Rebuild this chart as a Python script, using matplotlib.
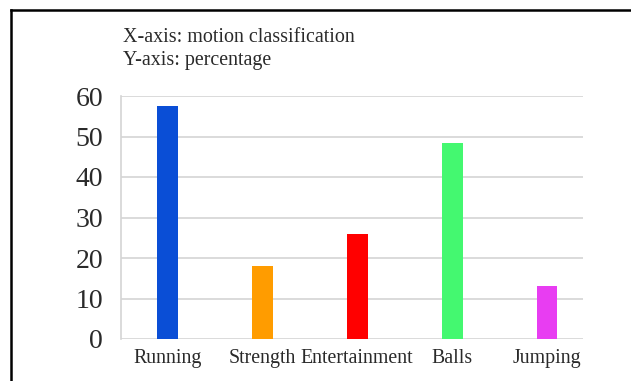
import matplotlib
matplotlib.use("Agg")
from matplotlib import pyplot as plt
from matplotlib.lines import Line2D

# data
categories = ["Running", "Strength", "Entertainment", "Balls", "Jumping"]
percentages = [57.5, 18, 26, 48.3, 13]
bar_colors = ["#0a4ed6", "#ff9c00", "#ff0000", "#44f870", "#e83df2"]
y_ticks = [0, 10, 20, 30, 40, 50, 60]

plt.rcParams['font.family'] = ['Liberation Serif', 'DejaVu Serif']

fig = plt.figure(figsize=(6.31, 3.81), dpi=100)
ax = fig.add_axes([121/631, 1-339/381, (583-121)/631, (339-96)/381])

x = list(range(len(categories)))
ax.bar(x, percentages, width=0.22, color=bar_colors, zorder=3)

ax.set_ylim(0, 60)
ax.set_xlim(-0.49, 4.38)
ax.set_yticks(y_ticks)
ax.set_yticklabels([str(t) for t in y_ticks], fontsize=20, color="#2a2a2a")
ax.set_xticks(x)
ax.set_xticklabels(categories, fontsize=14.3, color="#2a2a2a")
ax.tick_params(axis='y', length=0, pad=13)
ax.tick_params(axis='x', length=0, pad=7)
ax.grid(axis='y', color="#d4d4d4", linewidth=1.2, zorder=0)
for s in ["top", "right", "bottom"]:
    ax.spines[s].set_visible(False)
ax.spines["left"].set_color("#d4d4d4")
ax.spines["left"].set_linewidth(1.2)

fig.text(123/631, 1-37/381, "X-axis: motion classification", fontsize=14.4,
         va="center", ha="left", color="#2a2a2a")
fig.text(123/631, 1-61/381, "Y-axis: percentage", fontsize=14.4,
         va="center", ha="left", color="#2a2a2a")

# frame around the picture (top and left only)
fig.add_artist(Line2D([11/631, 1], [1-10/381, 1-10/381], color="black", linewidth=1.8))
fig.add_artist(Line2D([11/631, 11/631], [0, 1-10/381], color="black", linewidth=1.8))

fig.savefig("out.png", dpi=100)
